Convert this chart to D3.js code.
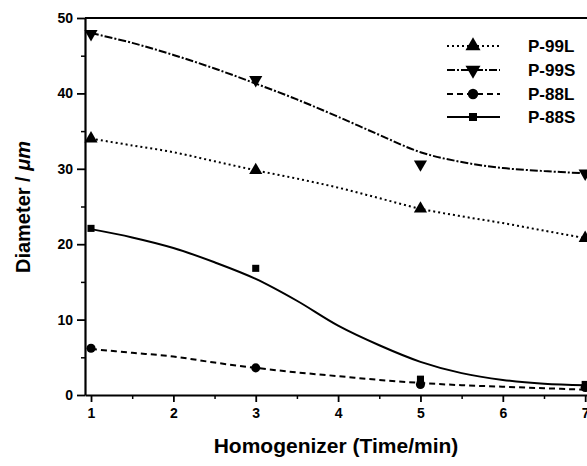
<!DOCTYPE html>
<html>
<head>
<meta charset="utf-8">
<script src="https://cdn.jsdelivr.net/npm/d3@7"></script>
<style>
  html, body { margin: 0; padding: 0; background: #fff; }
  svg { display: block; font-family: "Liberation Sans", Arial, Helvetica, sans-serif; }
</style>
</head>
<body>
<svg id="chart" width="587" height="466"></svg>
<script>
// Measured points: homogenizer time (min) vs droplet diameter (µm)
const times = [1, 3, 5, 7];
const p99L = [34.0, 29.8, 24.7, 20.8];
const p99S = [47.9, 41.8, 30.6, 29.4];
const p88L = [6.2, 3.6, 1.4, 1.0];
const p88S = [22.1, 16.8, 2.1, 1.4];

// Smoothed trend lines
const fitX = [1, 1.5, 2, 2.5, 3, 3.5, 4, 4.5, 5, 5.5, 6, 6.5, 7];
const fit99L = [34.0, 33.1, 32.2, 31.0, 29.8, 28.7, 27.5, 26.1, 24.7, 23.7, 22.8, 21.8, 20.8];
const fit99S = [48.0, 46.7, 45.1, 43.3, 41.3, 39.2, 36.9, 34.5, 32.2, 30.9, 30.1, 29.7, 29.4];
const fit88L = [6.1, 5.6, 5.1, 4.3, 3.6, 3.0, 2.5, 2.0, 1.6, 1.3, 1.1, 0.9, 0.7];
const fit88S = [22.0, 20.9, 19.5, 17.6, 15.4, 12.5, 9.2, 6.6, 4.4, 2.9, 2.0, 1.5, 1.3];

const seriesNames = ["P-99L", "P-99S", "P-88L", "P-88S"];
const xTicks = [1, 2, 3, 4, 5, 6, 7];
const yTicks = [0, 10, 20, 30, 40, 50];

const series = [
  { name: seriesNames[0], pts: p99L, fit: fit99L, dash: "2,3", symbol: d3.symbolTriangle, size: 75, rot: 0 },
  { name: seriesNames[1], pts: p99S, fit: fit99S, dash: "8,2,2,2", symbol: d3.symbolTriangle, size: 75, rot: 180 },
  { name: seriesNames[2], pts: p88L, fit: fit88L, dash: "6,4", symbol: d3.symbolCircle, size: 65, rot: 0 },
  { name: seriesNames[3], pts: p88S, fit: fit88S, dash: null, symbol: d3.symbolSquare, size: 50, rot: 0 }
];

const svg = d3.select("#chart");
const plotLeft = 85, plotRight = 600, plotTop = 18, plotBottom = 395;

const x = d3.scaleLinear().domain([0.927, 7.18]).range([plotLeft, plotRight]);
const y = d3.scaleLinear().domain([0, 50]).range([plotBottom, plotTop]);

const ink = "#000";

// Minor ticks
svg.append("g")
  .attr("transform", `translate(0,${plotBottom})`)
  .call(d3.axisBottom(x).tickValues(d3.range(1.5, 7.5, 1)).tickSize(4).tickFormat(""))
  .call(g => g.select(".domain").remove())
  .call(g => g.selectAll("line").attr("stroke-width", 1.5));
svg.append("g")
  .attr("transform", `translate(${plotLeft},0)`)
  .call(d3.axisLeft(y).tickValues(d3.range(5, 50, 10)).tickSize(4).tickFormat(""))
  .call(g => g.select(".domain").remove())
  .call(g => g.selectAll("line").attr("stroke-width", 1.5));

// Major axes
const xAxis = svg.append("g")
  .attr("transform", `translate(0,${plotBottom})`)
  .call(d3.axisBottom(x).tickValues(xTicks).tickFormat(d3.format("d"))
    .tickSize(7).tickPadding(6).tickSizeOuter(0));
const yAxis = svg.append("g")
  .attr("transform", `translate(${plotLeft},0)`)
  .call(d3.axisLeft(y).tickValues(yTicks).tickFormat(d3.format("d"))
    .tickSize(8).tickPadding(4).tickSizeOuter(0));

[xAxis, yAxis].forEach(g => {
  g.select(".domain").attr("stroke-width", 2.2);
  g.selectAll(".tick line").attr("stroke-width", 1.8);
  g.selectAll(".tick text")
    .attr("font-size", 14)
    .attr("font-weight", "bold")
    .attr("font-family", "Liberation Sans, Arial, sans-serif")
    .attr("fill", ink);
});

// Top frame line
svg.append("line")
  .attr("x1", plotLeft).attr("x2", 587)
  .attr("y1", plotTop).attr("y2", plotTop)
  .attr("stroke", ink).attr("stroke-width", 2);

// Trend lines
const line = d3.line()
  .x(d => x(d[0]))
  .y(d => y(d[1]))
  .curve(d3.curveCatmullRom.alpha(0.5));

series.forEach(s => {
  svg.append("path")
    .datum(fitX.map((t, i) => [t, s.fit[i]]))
    .attr("d", line)
    .attr("fill", "none")
    .attr("stroke", ink)
    .attr("stroke-width", 2)
    .attr("stroke-dasharray", s.dash);
});

// Markers
series.forEach(s => {
  svg.append("g").selectAll("path")
    .data(times.map((t, i) => [t, s.pts[i]]))
    .join("path")
    .attr("d", d3.symbol().type(s.symbol).size(s.size))
    .attr("transform", d => `translate(${x(d[0])},${y(d[1])}) rotate(${s.rot})`)
    .attr("fill", ink);
});

// Legend
const legRows = [46, 70, 94, 117];
const legend = svg.append("g");
series.forEach((s, i) => {
  const ly = legRows[i];
  legend.append("line")
    .attr("x1", 447).attr("x2", 500)
    .attr("y1", ly).attr("y2", ly)
    .attr("stroke", ink).attr("stroke-width", 2)
    .attr("stroke-dasharray", s.dash);
  legend.append("path")
    .attr("d", d3.symbol().type(s.symbol).size(s.size * 1.3))
    .attr("transform", `translate(473,${ly}) rotate(${s.rot})`)
    .attr("fill", ink);
  legend.append("text")
    .attr("x", 528).attr("y", ly)
    .attr("dy", "0.36em")
    .attr("font-size", 17)
    .attr("font-weight", "bold")
    .attr("fill", ink)
    .text(s.name);
});

// Axis titles
svg.append("text")
  .attr("x", 336).attr("y", 453)
  .attr("text-anchor", "middle")
  .attr("font-size", 21)
  .attr("font-weight", "bold")
  .attr("fill", ink)
  .text("Homogenizer (Time/min)");

const yTitle = svg.append("text")
  .attr("transform", "translate(30,207) rotate(-90)")
  .attr("text-anchor", "middle")
  .attr("font-size", 20)
  .attr("font-weight", "bold")
  .attr("fill", ink);
yTitle.append("tspan").text("Diameter / ");
yTitle.append("tspan").attr("font-style", "italic").text("\u03BCm");
</script>
</body>
</html>
